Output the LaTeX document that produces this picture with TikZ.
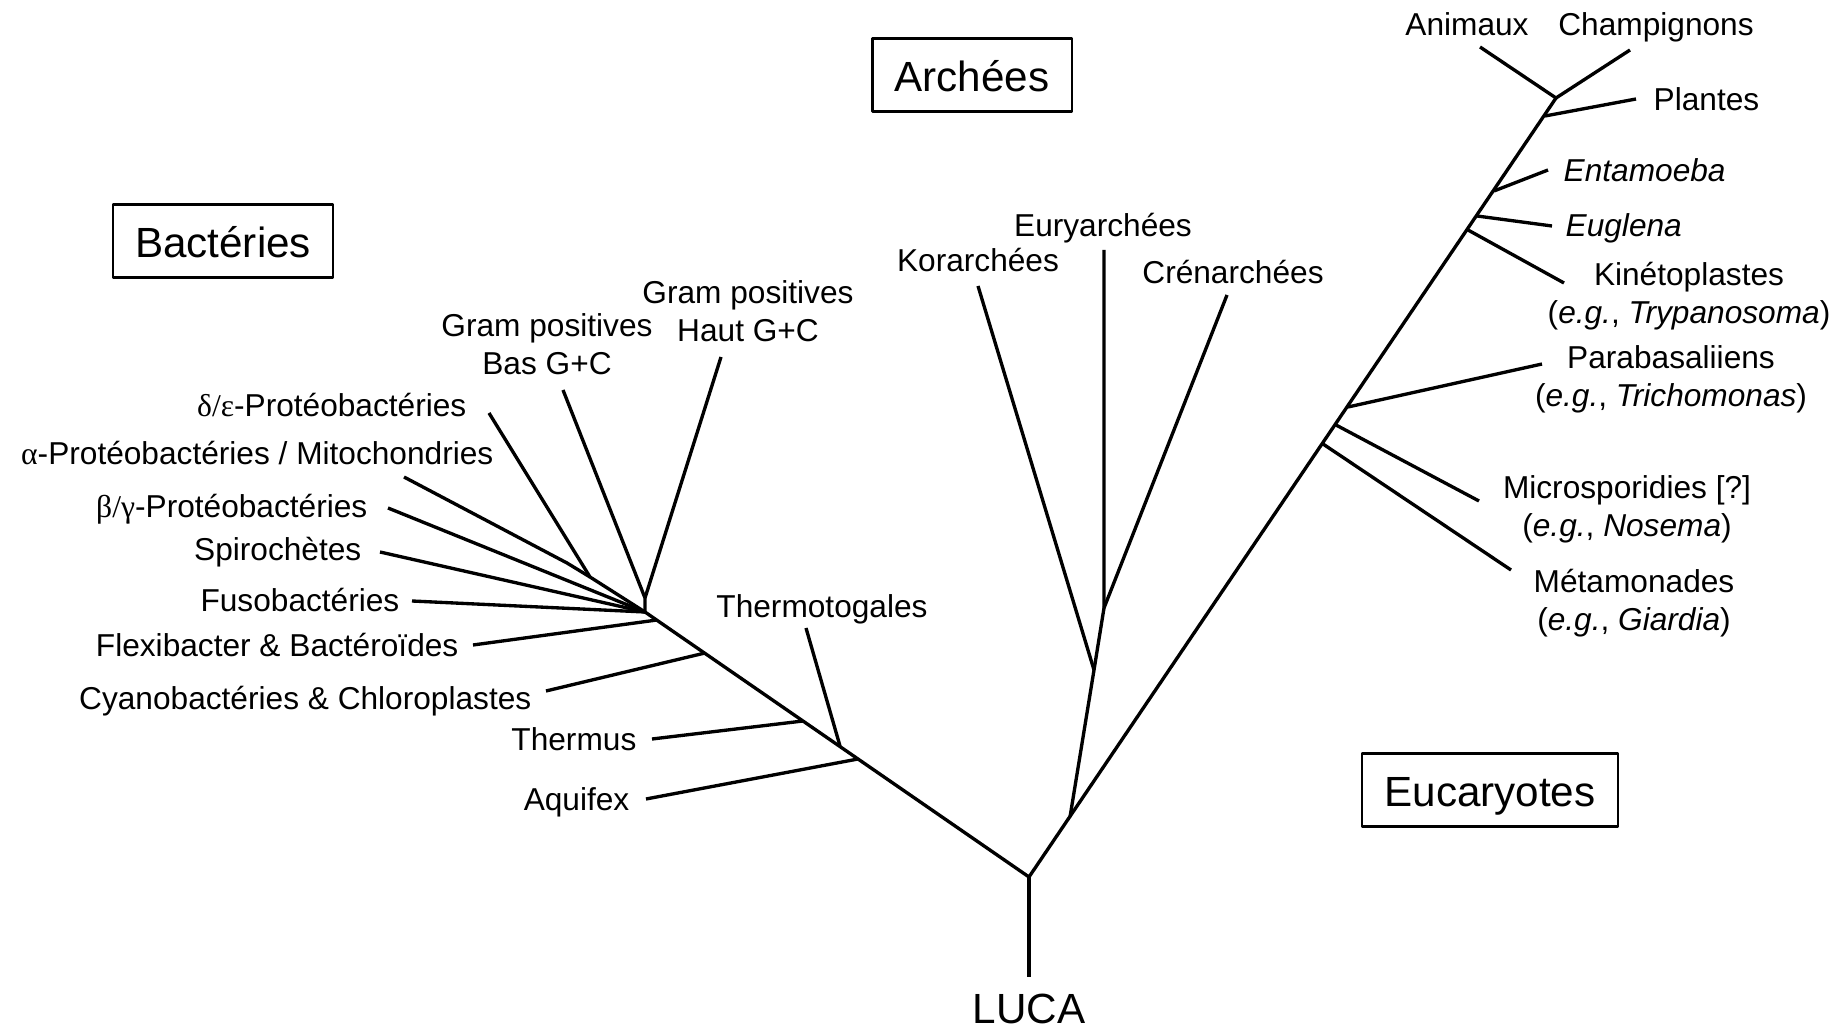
\documentclass[tikz,border=0pt]{standalone}
\usepackage{fontspec}
\setmainfont{Liberation Sans}
\newfontfamily\grk{Liberation Serif}
\begin{document}
\begin{tikzpicture}[x=0.01cm,y=-0.01cm,line width=0.95pt,line join=round,
  lab/.style={inner sep=0pt,font=\fontsize{9}{10.8}\selectfont,text height=7.5pt,text depth=0.9pt},
  lab2/.style={inner sep=0pt,font=\fontsize{9}{10.8}\selectfont,align=center},
  domainbox/.style={draw,line width=0.6pt,font=\fontsize{12}{14}\selectfont,
    inner xsep=6.3pt,minimum height=0.73cm,text height=10.5pt,text depth=1.2pt}]
  \useasboundingbox (0,0) rectangle (1848,1025);
  % domains
  \node[domainbox] (bact) at (223,241) {Bactéries};
  \node[domainbox] (arch) at (972,75) {Archées};
  \node[domainbox] (euk) at (1490,790) {Eucaryotes};
  \node[font=\fontsize{12}{14}\selectfont,inner sep=0pt,text height=8.6pt,text depth=0pt,anchor=north]
    (LUCA) at (1029,992) {LUCA};
  % tree points
  \coordinate (root) at (1029,877);
  \coordinate (hub) at (645,612);
  \coordinate (top) at (1556,98);
  \coordinate (aqJ) at (858,759);  \coordinate (aq) at (646,799);
  \coordinate (tgJ) at (840,746);  \coordinate (tg) at (806,628);
  \coordinate (thJ) at (803,721);  \coordinate (th) at (652,739);
  \coordinate (cyJ) at (705,653);  \coordinate (cy) at (546,691);
  \coordinate (flJ) at (657,620);  \coordinate (fl) at (473,645);
  \coordinate (fu) at (412,601);   \coordinate (sp) at (380,552);
  \coordinate (bg) at (388,508);
  \coordinate (pJ) at (590,577);   \coordinate (pX) at (567,563);
  \coordinate (de) at (489,413);   \coordinate (al) at (404,477);
  \coordinate (gJ) at (645,598);
  \coordinate (gb) at (563,390);   \coordinate (gh) at (721,357);
  \coordinate (arJ) at (1070,817); \coordinate (kJ) at (1094,670);
  \coordinate (eJ) at (1104,608);
  \coordinate (ko) at (978,286);   \coordinate (eu) at (1104,250);
  \coordinate (cr) at (1227,295);
  \coordinate (ani) at (1480,47);  \coordinate (cha) at (1630,50);
  \coordinate (plaJ) at (1545,116);\coordinate (pla) at (1636,99);
  \coordinate (entJ) at (1494,191);\coordinate (ent) at (1548,170);
  \coordinate (eugJ) at (1477,216);\coordinate (eug) at (1552,226);
  \coordinate (kinJ) at (1468,230);\coordinate (kin) at (1564,283);
  \coordinate (parJ) at (1348,407);\coordinate (par) at (1542,364);
  \coordinate (micJ) at (1336,425);\coordinate (mic) at (1479,501);
  \coordinate (metJ) at (1323,444);\coordinate (met) at (1511,570);
  % branches
  \draw[shorten >=0.15cm] (root) -- (LUCA.north);
  \draw (hub) -- (root) -- (top);
  \draw (aqJ) -- (aq);  \draw (tgJ) -- (tg);  \draw (thJ) -- (th);
  \draw (cyJ) -- (cy);  \draw (flJ) -- (fl);
  \draw (hub) -- (fu);  \draw (hub) -- (sp);  \draw (hub) -- (bg);
  \draw (hub) -- (pJ) -- (de);  \draw (pJ) -- (pX) -- (al);
  \draw (hub) -- (gJ) -- (gb);  \draw (gJ) -- (gh);
  \draw (arJ) -- (kJ) -- (eJ) -- (eu);  \draw (kJ) -- (ko);  \draw (eJ) -- (cr);
  \draw (ani) -- (top) -- (cha);  \draw (plaJ) -- (pla);
  \draw (entJ) -- (ent);  \draw (eugJ) -- (eug);  \draw (kinJ) -- (kin);
  \draw (parJ) -- (par);  \draw (micJ) -- (mic);  \draw (metJ) -- (met);
  % labels
  \node[lab,anchor=east] (l-de) at (468,405) {{\grk δ/ε}-Protéobactéries};
  \node[lab,anchor=east] (l-al) at (495,453) {{\grk α}-Protéobactéries / Mitochondries};
  \node[lab,anchor=east] (l-bg) at (369,506) {{\grk β/γ}-Protéobactéries};
  \node[lab,anchor=east] (l-sp) at (363,549) {Spirochètes};
  \node[lab,anchor=east] (l-fu) at (401,600) {Fusobactéries};
  \node[lab,anchor=east] (l-fl) at (460,645) {Flexibacter \& Bactéroïdes};
  \node[lab,anchor=east] (l-cy) at (533,698) {Cyanobactéries \& Chloroplastes};
  \node[lab,anchor=east] (l-th) at (638,739) {Thermus};
  \node[lab,anchor=east] (l-aq) at (631,799) {Aquifex};
  \node[lab] (l-tg) at (822,606) {Thermotogales};
  \node[lab2] (l-gb) at (547,344) {Gram positives\\Bas G+C};
  \node[lab2] (l-gh) at (748,311) {Gram positives\\Haut G+C};
  \node[lab] (l-ko) at (978,260) {Korarchées};
  \node[lab] (l-eu) at (1103,225) {Euryarchées};
  \node[lab] (l-cr) at (1233,272) {Crénarchées};
  \node[lab] (l-ani) at (1467,24) {Animaux};
  \node[lab] (l-cha) at (1656,24) {Champignons};
  \node[lab,anchor=west] (l-pla) at (1652,99) {Plantes};
  \node[lab,anchor=west] (l-ent) at (1562,170) {\textit{Entamoeba}};
  \node[lab,anchor=west] (l-eug) at (1564,225) {\textit{Euglena}};
  \node[lab2] (l-kin) at (1689,296) {Kinétoplastes\\(\textit{e.g.}, \textit{Trypanosoma})};
  \node[lab2] (l-par) at (1671,379) {Parabasaliiens\\(\textit{e.g.}, \textit{Trichomonas})};
  \node[lab2] (l-mic) at (1627,509) {Microsporidies [?]\\(\textit{e.g.}, \textit{Nosema})};
  \node[lab2] (l-met) at (1634,603) {Métamonades\\(\textit{e.g.}, \textit{Giardia})};
\end{tikzpicture}
\end{document}
